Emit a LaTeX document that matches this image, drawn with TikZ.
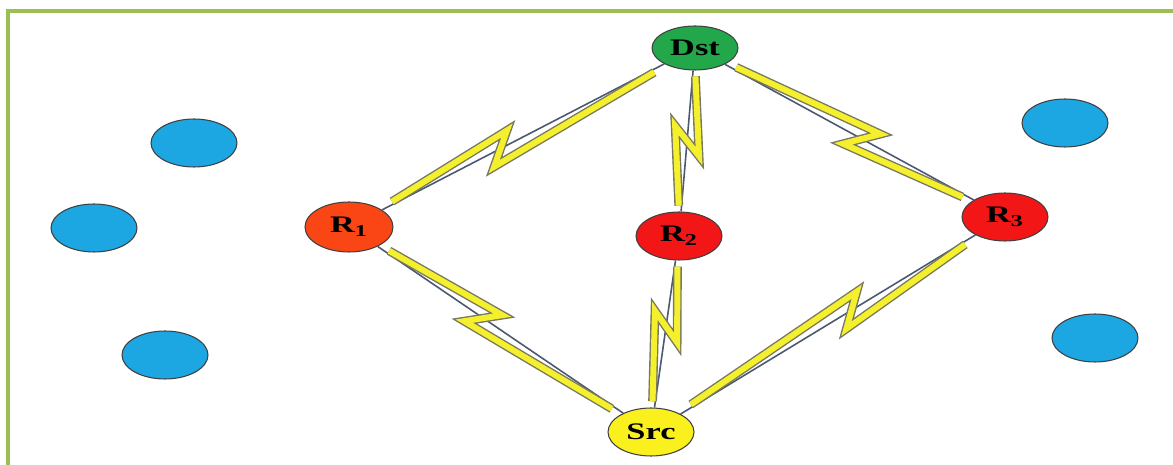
\documentclass[tikz,border=0pt]{standalone}
\usepackage{fontspec}
\newfontfamily\nodefont[FakeStretch=1.45]{Liberation Serif}
\usetikzlibrary{shapes.geometric,calc}

\definecolor{framegreen}{RGB}{155,190,85}
\definecolor{dstgreen}{RGB}{34,168,74}
\definecolor{srcyellow}{RGB}{250,240,30}
\definecolor{relayorange}{RGB}{250,70,20}
\definecolor{relayred}{RGB}{242,22,22}
\definecolor{idleblue}{RGB}{28,166,226}
\definecolor{linkgray}{RGB}{75,88,112}
\definecolor{boltgray}{RGB}{120,120,95}
\definecolor{boltyellow}{RGB}{245,240,45}

\tikzset{
  host/.style={ellipse, draw=black!75, line width=0.6pt, minimum width=1.72cm,
    minimum height=0.96cm, inner sep=0pt,
    font=\nodefont\bfseries\fontsize{13.5}{14}\selectfont},
  link/.style={draw=linkgray, line width=0.9pt},
  bolt/.style={draw=boltyellow, line width=3.4pt, line join=miter,
    preaction={draw=boltgray, line width=5pt}}
}

% link with a lightning bolt, #3 = where the zigzag sits
\newcommand{\zap}[3]{%
  \draw[link] (#1) -- (#2) coordinate[pos=0.04] (z1) coordinate[pos=#3] (zm)
    coordinate[pos=0.96] (z2);
  \draw[bolt] ($(z1)!1.6pt!90:(z2)$) -- ($(zm)!8pt!(z2)!7.5pt!90:(z2)$)
    -- ($(zm)!-8pt!(z2)!7.5pt!-90:(z2)$) -- ($(z2)!1.6pt!90:(z1)$);
}

\begin{document}
\begin{tikzpicture}[x=0.02cm, y=-0.02cm]
  \useasboundingbox (0,0) rectangle (1173,465);
  \draw[framegreen, line width=2.3pt] (8,470) -- (8,11) -- (1180,11);

  % idle nodes
  \foreach \i/\p in {1/{(194,143)}, 2/{(94,228)}, 3/{(165,355)}, 4/{(1065,123)}, 5/{(1095,338)}}
    \node[host, fill=idleblue] (I\i) at \p {};

  \node[host, fill=dstgreen, minimum height=0.88cm] (Dst) at (695,48) {Dst};
  \node[host, fill=srcyellow] (Src) at (651,432) {Src};
  \node[host, fill=relayorange, minimum width=1.76cm, minimum height=1cm] (R1) at (349,227) {R\textsubscript{1}};
  \node[host, fill=relayred] (R2) at (679,236) {R\textsubscript{2}};
  \node[host, fill=relayred] (R3) at (1005,217) {R\textsubscript{3}};

  \zap{R1}{Dst}{0.42}
  \zap{Dst}{R2}{0.5}
  \zap{Dst}{R3}{0.55}
  \zap{R1}{Src}{0.43}
  \zap{R2}{Src}{0.45}
  \zap{Src}{R3}{0.58}
\end{tikzpicture}
\end{document}
